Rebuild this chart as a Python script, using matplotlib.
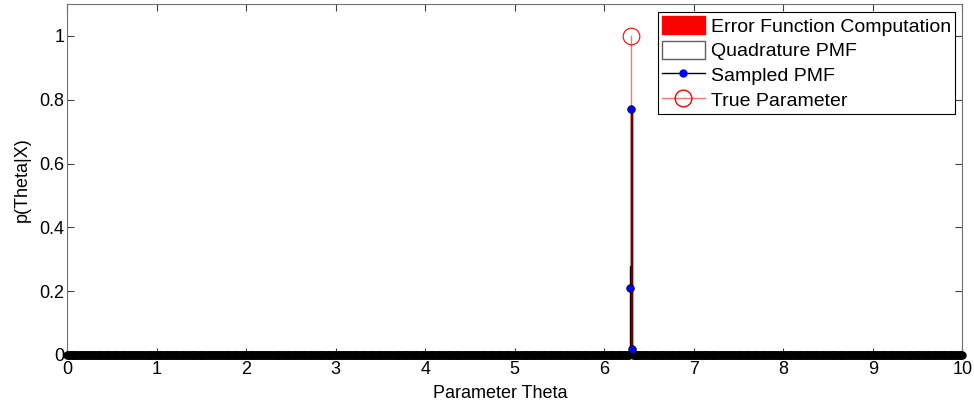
import matplotlib.pyplot as plt
import numpy as np
from matplotlib.patches import Patch
from matplotlib.lines import Line2D

plt.rcParams['font.family'] = ['Liberation Sans', 'DejaVu Sans']

# sampled grid of theta values and the sampled PMF (zero away from the peak)
theta = np.round(np.arange(0, 10.001, 0.01), 2)
peak_theta = [6.29, 6.30, 6.31]
sampled_peak = [0.21, 0.77, 0.02]
quadrature_peak = [0.28, 0.77, 0.02]
erf_peak = [0.0, 0.77, 0.0]
true_theta = 6.30
true_value = 1.0

sampled = np.zeros_like(theta)
for t, v in zip(peak_theta, sampled_peak):
    sampled[np.isclose(theta, t)] = v
nonzero = np.where(sampled > 0)[0]
zero = np.where(sampled == 0)[0]

fig = plt.figure(figsize=(9.74, 4.08), dpi=100)
ax = fig.add_axes([0.069, 0.130, 0.919, 0.860])

ax.bar(peak_theta, quadrature_peak, width=0.01, color='white', edgecolor='black',
       linewidth=1.0, zorder=2)
ax.bar(peak_theta, erf_peak, width=0.01, color='red', edgecolor='#700000',
       linewidth=1.0, zorder=3)
ax.plot([true_theta, true_theta], [0, true_value], color='#ff7070', lw=1,
        zorder=1)
ax.plot([true_theta], [true_value], ls='none', marker='o', ms=12, mfc='none',
        mec='red', mew=0.8, zorder=5)
# sampled PMF: zero samples form the dense baseline band
ax.plot(theta[zero], sampled[zero], ls='none', marker='o', ms=5, mfc='black',
        mec='black', clip_on=False, zorder=6)
ax.plot(theta[nonzero], sampled[nonzero], ls='none', marker='o', ms=5.5,
        mfc='blue', mec='black', mew=0.5, clip_on=False, zorder=7)

ax.set_xlim(0, 10)
ax.set_ylim(0, 1.1)
ax.set_xticks(range(0, 11))
ax.set_yticks([0, 0.2, 0.4, 0.6, 0.8, 1])
ax.set_yticklabels(['0', '0.2', '0.4', '0.6', '0.8', '1'])
ax.tick_params(direction='in', top=True, right=True, labelsize=13, length=5,
               pad=2, color='#404040')
ax.tick_params(axis='x', pad=4)
for s in ax.spines.values():
    s.set_color('#707070')
ax.set_xlabel('Parameter Theta', fontsize=13, labelpad=0)
ax.xaxis.set_label_coords(0.484, -0.085)
ax.set_ylabel('p(Theta|X)', fontsize=13, labelpad=6)

handles = [
    Patch(facecolor='red', edgecolor='red', label='Error Function Computation'),
    Patch(facecolor='white', edgecolor='#606060', label='Quadrature PMF'),
    Line2D([], [], color='black', lw=1, marker='o', ms=5, mfc='blue',
           mec='blue', markevery=[1], label='Sampled PMF'),
    Line2D([], [], color='#ff7070', lw=1, marker='o', ms=12, mfc='none',
           mec='red', markevery=[1], label='True Parameter'),
]
leg = ax.legend(handles=handles, loc='upper right', fontsize=14, frameon=True,
                fancybox=False, edgecolor='black', borderaxespad=0.4,
                handlelength=2.2, handleheight=1.1, handletextpad=0.3,
                borderpad=0.2, labelspacing=0.25, framealpha=1)
leg.get_frame().set_linewidth(0.8)

plt.savefig('out.png', dpi=100)
